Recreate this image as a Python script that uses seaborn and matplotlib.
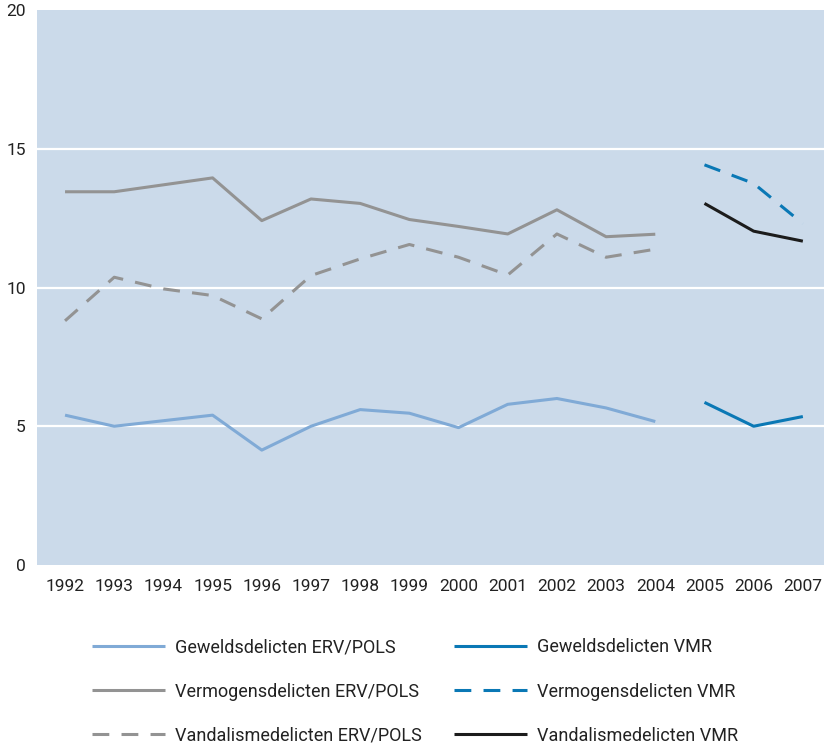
import matplotlib
matplotlib.use("Agg")
import matplotlib.pyplot as plt
import seaborn as sns
import pandas as pd

years_erv = list(range(1992, 2005))
years_vmr = [2005, 2006, 2007]

geweld_erv = [5.40, 5.00, 5.20, 5.40, 4.14, 5.00, 5.60, 5.47, 4.95, 5.79, 6.00, 5.66, 5.17]
vermogen_erv = [13.45, 13.45, 13.70, 13.95, 12.41, 13.19, 13.03, 12.45, 12.20, 11.93, 12.80, 11.83, 11.92]
vandal_erv = [8.80, 10.37, 9.95, 9.71, 8.87, 10.43, 11.03, 11.55, 11.09, 10.45, 11.93, 11.09, 11.38]

geweld_vmr = [5.86, 5.00, 5.35]
vermogen_vmr = [14.42, 13.75, 12.30]
vandal_vmr = [13.03, 12.03, 11.67]

labels = ["Geweldsdelicten ERV/POLS", "Vermogensdelicten ERV/POLS", "Vandalismedelicten ERV/POLS",
          "Geweldsdelicten VMR", "Vermogensdelicten VMR", "Vandalismedelicten VMR"]
xticks = list(range(1992, 2008))
yticks = [0, 5, 10, 15, 20]

sns.set_theme(style="white")
plt.rcParams['font.family'] = ['Roboto', 'DejaVu Sans']

fig = plt.figure(figsize=(8.24, 7.45), dpi=100)
ax = fig.add_axes([37/824, 1-565/745, 1-37/824, (565-10)/745])
ax.set_facecolor("#cbdaea")

light = "#80aad6"
gray = "#939393"
blue = "#0a78b5"
black = "#1c1c1c"
lw = 2.2
dash = (5.5, 4.0)

series = [
    (years_erv, geweld_erv, labels[0], light, None),
    (years_erv, vermogen_erv, labels[1], gray, None),
    (years_erv, vandal_erv, labels[2], gray, dash),
    (years_vmr, geweld_vmr, labels[3], blue, None),
    (years_vmr, vermogen_vmr, labels[4], blue, dash),
    (years_vmr, vandal_vmr, labels[5], black, None),
]

handles = []
for xs, ys, lab, col, ds in series:
    df = pd.DataFrame({"jaar": xs, "waarde": ys})
    sns.lineplot(data=df, x="jaar", y="waarde", ax=ax, color=col, linewidth=lw, label=lab)
    line = ax.get_lines()[-1]
    if ds is not None:
        line.set_dashes(ds)
    line.set_solid_capstyle("butt")
    line.set_dash_capstyle("butt")
    handles.append(line)

if ax.legend_:
    ax.legend_.remove()

ax.set_xlim(1991.43, 2007.43)
ax.set_ylim(0, 20)
ax.set_xticks(xticks)
ax.set_xticklabels([str(x) for x in xticks], fontsize=12.5, color="#222222")
ax.set_yticks(yticks)
ax.set_yticklabels([str(y) for y in yticks], fontsize=12.5, color="#222222")
ax.tick_params(axis="x", length=0, pad=10)
ax.tick_params(axis="y", length=0, pad=8)
for yv in [5, 10, 15]:
    ax.axhline(yv, color="white", linewidth=1.6, zorder=1)
for s in ax.spines.values():
    s.set_visible(False)
ax.set_xlabel("")
ax.set_ylabel("")

fig.legend(handles, labels, loc="lower left", bbox_to_anchor=(76/824, -16/745), ncol=2,
           frameon=False, fontsize=13, handlelength=4.05, handletextpad=0.55,
           columnspacing=1.75, labelspacing=1.45, labelcolor="#222222")

fig.savefig("out.png", dpi=100)
